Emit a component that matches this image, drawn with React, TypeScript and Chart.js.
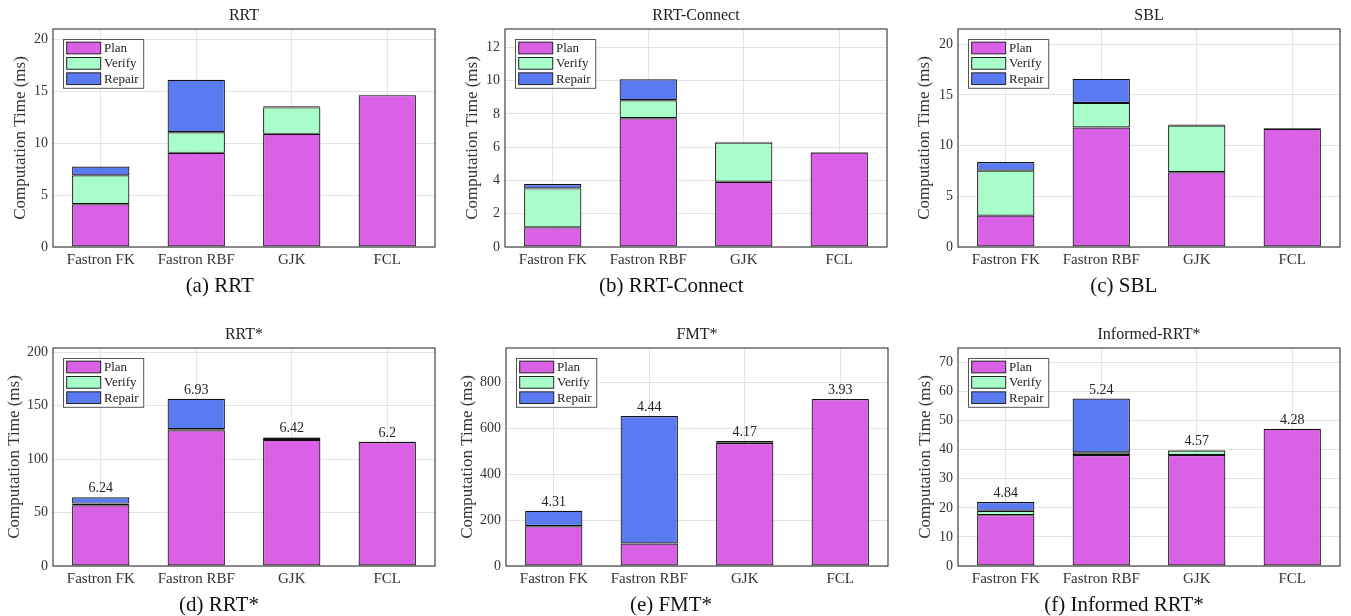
import React, { useEffect, useRef } from "react";
import { Chart, registerables } from "chart.js";

Chart.register(...registerables);

const categories = ["Fastron FK", "Fastron RBF", "GJK", "FCL"];
const seriesNames = ["Plan", "Verify", "Repair"];
const seriesColors = ["#DA60E5", "#A8FDCB", "#5A7AF2"];

const panelTitles = ["RRT", "RRT-Connect", "SBL", "RRT*", "FMT*", "Informed-RRT*"];
const panelCaptions = ["(a) RRT", "(b) RRT-Connect", "(c) SBL", "(d) RRT*", "(e) FMT*", "(f) Informed RRT*"];
const yMax = [21, 13.1, 21.5, 204, 950, 75];
const yStep = [5, 2, 5, 50, 200, 10];

// (a) RRT
const rrtPlan = [4.12, 9.07, 10.9, 14.63];
const rrtVerify = [2.78, 1.98, 2.55, 0];
const rrtRepair = [0.86, 5.05, 0.1, 0.03];
// (b) RRT-Connect
const rrtcPlan = [1.18, 7.74, 3.92, 5.68];
const rrtcVerify = [2.34, 1.08, 2.36, 0];
const rrtcRepair = [0.26, 1.26, 0.04, 0.03];
// (c) SBL
const sblPlan = [3.09, 11.78, 7.37, 11.65];
const sblVerify = [4.44, 2.43, 4.6, 0];
const sblRepair = [0.86, 2.37, 0.1, 0.08];
// (d) RRT*
const rrtsPlan = [56.8, 127, 118, 116];
const rrtsVerify = [1.6, 1.0, 1.9, 0.2];
const rrtsRepair = [5.9, 28.5, 0.6, 0.2];
const rrtsLabels = ["6.24", "6.93", "6.42", "6.2"];
// (e) FMT*
const fmtPlan = [173, 98, 536, 728];
const fmtVerify = [1, 0.5, 1, 0];
const fmtRepair = [67, 555, 8, 0];
const fmtLabels = ["4.31", "4.44", "4.17", "3.93"];
// (f) Informed RRT*
const irrtPlan = [17.5, 38.2, 38.2, 47.2];
const irrtVerify = [1.5, 0.9, 1.5, 0];
const irrtRepair = [3.0, 18.5, 0.2, 0];
const irrtLabels = ["4.84", "5.24", "4.57", "4.28"];

const panelSeries = [
  [rrtPlan, rrtVerify, rrtRepair],
  [rrtcPlan, rrtcVerify, rrtcRepair],
  [sblPlan, sblVerify, sblRepair],
  [rrtsPlan, rrtsVerify, rrtsRepair],
  [fmtPlan, fmtVerify, fmtRepair],
  [irrtPlan, irrtVerify, irrtRepair],
];
const panelLabels: (string[] | null)[] = [null, null, null, rrtsLabels, fmtLabels, irrtLabels];

// layout
const canvasLeft = [0, 450, 900, 0, 450, 900];
const canvasTop = [0, 0, 0, 319, 319, 319];
const plotLeft = [53, 55, 58, 53, 56, 58];
const yLabelX = [21, 22.7, 25, 14.3, 17.3, 25.7];
const captionX = [219.7, 221.3, 223.7, 219, 221, 224];
const CW = 450;
const CH = 297;
const PW = 382;
const SERIF = "'Liberation Serif', 'Times New Roman', serif";

const framePlugin = {
  id: "frameLegendLabels",
  afterDatasetsDraw(chart: any) {
    const { ctx, chartArea } = chart;
    const { left, top, right, bottom } = chartArea;
    const opts = chart.options.plugins.frameLegendLabels || {};
    ctx.save();
    // value labels
    const labels = opts.labels as string[] | null;
    if (labels) {
      const n = chart.data.datasets.length;
      const meta = chart.getDatasetMeta(n - 1);
      ctx.font = `14px ${SERIF}`;
      ctx.fillStyle = "#222";
      ctx.textAlign = "center";
      ctx.textBaseline = "middle";
      meta.data.forEach((el: any, i: number) => {
        ctx.fillText(labels[i], el.x, el.y - 8.5);
      });
    }
    // frame
    ctx.strokeStyle = "#444";
    ctx.lineWidth = 1.2;
    ctx.strokeRect(left, top, right - left, bottom - top);
    // legend
    const lx = left + 10;
    const ly = top + 10;
    ctx.fillStyle = "#fff";
    ctx.fillRect(lx, ly, 80.7, 49.3);
    ctx.strokeStyle = "#555";
    ctx.lineWidth = 1;
    ctx.strokeRect(lx + 0.5, ly + 0.5, 80.2, 48.8);
    ctx.font = `13px ${SERIF}`;
    ctx.textAlign = "left";
    ctx.textBaseline = "middle";
    chart.data.datasets.forEach((ds: any, i: number) => {
      const cy = top + 19 + i * 15.35;
      ctx.fillStyle = ds.backgroundColor;
      ctx.fillRect(left + 13.7, cy - 5.85, 34, 11.7);
      ctx.strokeStyle = "#222";
      ctx.lineWidth = 1;
      ctx.strokeRect(left + 13.7, cy - 5.85, 34, 11.7);
      ctx.fillStyle = "#222";
      ctx.fillText(ds.label, left + 51, cy + 0.5);
    });
    // caption
    if (opts.caption) {
      ctx.font = `21px ${SERIF}`;
      ctx.fillStyle = "#111";
      ctx.textAlign = "center";
      ctx.textBaseline = "middle";
      ctx.fillText(opts.caption, opts.captionX, 286);
    }
    ctx.restore();
  },
};

function Panel({ idx }: { idx: number }) {
  const ref = useRef<HTMLCanvasElement | null>(null);
  useEffect(() => {
    if (!ref.current) return;
    const pl = plotLeft[idx];
    const step = yStep[idx];
    const chart = new Chart(ref.current, {
      type: "bar",
      data: {
        labels: categories,
        datasets: seriesNames.map((name, s) => ({
          label: name,
          data: panelSeries[idx][s],
          backgroundColor: seriesColors[s],
          borderColor: "#111",
          borderWidth: 1.2,
          borderSkipped: false,
          barPercentage: 0.6,
          categoryPercentage: 1,
        })),
      },
      options: {
        animation: false,
        responsive: false,
        devicePixelRatio: 1,
        layout: { padding: { left: 0, right: CW - pl - PW, top: 0, bottom: 0 } },
        plugins: {
          legend: { display: false },
          tooltip: { enabled: false },
          title: {
            display: true,
            fullSize: false,
            text: panelTitles[idx],
            color: "#222",
            font: { family: SERIF, size: 16, weight: "normal" },
            padding: { top: 6, bottom: 3.8 },
          },
          frameLegendLabels: {
            labels: panelLabels[idx],
            caption: panelCaptions[idx],
            captionX: captionX[idx],
          },
        } as any,
        scales: {
          x: {
            stacked: true,
            grid: { color: "#e4e4e4", drawTicks: false, offset: false },
            border: { display: false },
            ticks: { color: "#333", font: { family: SERIF, size: 15 }, padding: 4 },
            afterFit: (scale: any) => {
              scale.height = 50;
            },
          },
          y: {
            stacked: true,
            min: 0,
            max: yMax[idx],
            grid: { color: "#e4e4e4", drawTicks: false },
            border: { display: false },
            ticks: {
              stepSize: step,
              includeBounds: false,
              autoSkip: false,
              color: "#333",
              font: { family: SERIF, size: 14 },
              padding: 5,
            },
            afterBuildTicks: (scale: any) => {
              scale.ticks = scale.ticks.filter(
                (t: any) => Math.abs(t.value / step - Math.round(t.value / step)) < 1e-6
              );
            },
            title: {
              display: true,
              text: "Computation Time (ms)",
              color: "#333",
              font: { family: SERIF, size: 17 },
              padding: { top: yLabelX[idx] - 10.2, bottom: 0 },
            },
            afterFit: (scale: any) => {
              scale.width = pl;
            },
          },
        },
      },
      plugins: [framePlugin],
    } as any);
    return () => chart.destroy();
  }, [idx]);
  return (
    <canvas
      ref={ref}
      width={CW}
      height={CH}
      style={{
        position: "absolute",
        left: canvasLeft[idx],
        top: canvasTop[idx],
        width: CW,
        height: CH,
      }}
    />
  );
}

export default function App() {
  return (
    <div
      style={{
        position: "absolute",
        left: 0,
        top: 0,
        width: 1351,
        height: 616,
        overflow: "hidden",
        background: "#fff",
      }}
    >
      {panelTitles.map((_, i) => (
        <Panel key={i} idx={i} />
      ))}
    </div>
  );
}
